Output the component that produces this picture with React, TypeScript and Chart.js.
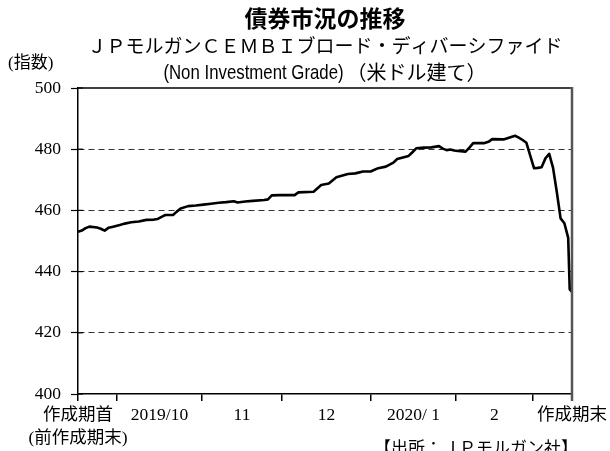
import { useEffect, useRef } from 'react';
import { Chart, registerables } from 'chart.js';

Chart.register(...registerables);

const titleMain = '債券市況の推移';
const titleSub = 'ＪＰモルガンＣＥＭＢＩブロード・ディバーシファイド';
const subtitleLatin = '(Non Investment Grade)';
const subtitleJa = '（米ドル建て）';
const yUnitLabel = '(指数)';
const sourceLabel = '【出所：ＪＰモルガン社】';

// x = business-day index from the start of the period
const dayIndex = [
  0, 1, 2, 3, 5, 6, 7, 8, 9, 10,
  11, 12, 14, 16, 18, 20, 21, 22, 23, 25,
  26, 27, 29, 31, 33, 35, 37, 39, 41, 42,
  44, 46, 49, 50, 51, 53, 57, 58, 62, 64,
  66, 68, 71, 73, 75, 77, 79, 81, 83, 84,
  87, 88, 89, 91, 93, 95, 96, 97, 98, 99,
  100, 102, 103, 104, 107, 108, 109, 112, 113, 115,
  116, 117, 118, 120, 121, 122, 123, 124, 125, 126,
  127, 128, 129, 129.4, 130,
];
const indexValues = [
  453.0, 453.4, 454.2, 454.7, 454.4, 454.0, 453.4, 454.3, 454.6, 454.9,
  455.2, 455.6, 456.1, 456.4, 456.9, 457.0, 457.2, 457.9, 458.5, 458.5,
  459.6, 460.6, 461.4, 461.6, 461.9, 462.2, 462.5, 462.7, 463.0, 462.6,
  462.9, 463.1, 463.4, 463.6, 464.9, 465.0, 465.0, 465.9, 466.1, 468.3,
  468.8, 470.8, 471.9, 472.1, 472.7, 472.7, 473.8, 474.3, 475.6, 476.8,
  477.8, 479.0, 480.3, 480.5, 480.6, 481.0, 480.2, 479.7, 479.9, 479.6,
  479.4, 479.2, 480.5, 482.0, 482.0, 482.4, 483.3, 483.2, 483.6, 484.4,
  483.8, 483.0, 482.1, 473.8, 473.9, 474.1, 477.0, 478.5, 474.0, 466.0,
  457.4, 455.8, 451.0, 434.2, 433.4,
];

const yTicks = [400, 420, 440, 460, 480, 500];
const boundaryTicks = [0, 10.3, 32.6, 53.7, 77.1, 99.5, 119.7, 130];
const boundaryLabels: (string | string[])[] = [
  ['作成期首', '(前作成期末)'], '', '', '', '', '', '', '作成期末',
];
const monthMidTicks = [21.45, 43.15, 65.4, 88.3, 109.6];
const monthLabels = ['2019/10', '11', '12', '2020/ 1', '2'];

const SERIF = "'Liberation Serif', 'Noto Sans CJK JP', serif";
const GOTHIC = "'Noto Sans CJK JP', sans-serif";
const NARROW = "'Liberation Sans', sans-serif";

const framePlugin = {
  id: 'frameAndText',
  afterDraw(chart: any) {
    const { ctx, chartArea } = chart;
    const { left, right, top, bottom } = chartArea;
    const yScale = chart.scales.y;
    ctx.save();
    // top border
    ctx.strokeStyle = '#000';
    ctx.lineWidth = 1.5;
    ctx.beginPath();
    ctx.moveTo(left, top);
    ctx.lineTo(right, top);
    ctx.stroke();
    // right border
    ctx.strokeStyle = '#555';
    ctx.lineWidth = 2.5;
    ctx.beginPath();
    ctx.moveTo(right, top - 1);
    ctx.lineTo(right, bottom + 7);
    ctx.stroke();
    // inner y ticks
    ctx.strokeStyle = '#000';
    ctx.lineWidth = 1.2;
    yTicks.forEach((v) => {
      const y = yScale.getPixelForValue(v);
      ctx.beginPath();
      ctx.moveTo(left, y);
      ctx.lineTo(left + 5, y);
      ctx.stroke();
    });

    // texts
    const cx = (left + right) / 2;
    ctx.fillStyle = '#000';
    ctx.textBaseline = 'middle';
    ctx.textAlign = 'center';
    ctx.font = `bold 23px ${GOTHIC}`;
    ctx.fillText(titleMain, cx, 18);
    ctx.font = `19px ${GOTHIC}`;
    ctx.fillText(titleSub, cx, 46);

    const squeeze = 0.8;
    ctx.font = `21px ${NARROW}`;
    const wA = ctx.measureText(subtitleLatin).width * squeeze;
    ctx.font = `20px ${GOTHIC}`;
    const wB = ctx.measureText(subtitleJa).width;
    const gap = 3;
    const startX = cx - (wA + gap + wB) / 2;
    ctx.textAlign = 'left';
    ctx.save();
    ctx.translate(startX, 73);
    ctx.scale(squeeze, 1);
    ctx.font = `21px ${NARROW}`;
    ctx.fillText(subtitleLatin, 0, 0);
    ctx.restore();
    ctx.font = `20px ${GOTHIC}`;
    ctx.fillText(subtitleJa, startX + wA + gap, 72);

    ctx.font = `17px ${SERIF}`;
    ctx.fillText(yUnitLabel, 8, 64);

    ctx.textAlign = 'right';
    ctx.font = `17px ${SERIF}`;
    ctx.fillText(sourceLabel, 578, 450);
    ctx.restore();
  },
};

export default function App() {
  const canvasRef = useRef<HTMLCanvasElement>(null);

  useEffect(() => {
    if (!canvasRef.current) return;
    const labelFor = (v: number): string | string[] => {
      const bi = boundaryTicks.indexOf(v);
      if (bi >= 0) return boundaryLabels[bi];
      const mi = monthMidTicks.indexOf(v);
      if (mi >= 0) return monthLabels[mi];
      return '';
    };
    const chart = new Chart(canvasRef.current, {
      type: 'line',
      data: {
        datasets: [
          {
            data: dayIndex.map((x, i) => ({ x, y: indexValues[i] })),
            borderColor: '#000',
            borderWidth: 2.6,
            pointRadius: 0,
            tension: 0,
            borderJoinStyle: 'round',
            fill: false,
          },
        ],
      },
      options: {
        animation: false,
        responsive: false,
        maintainAspectRatio: false,
        layout: { padding: { top: 88, right: 38, left: 0, bottom: 0 } },
        plugins: {
          legend: { display: false },
          tooltip: { enabled: false },
          title: { display: false },
        },
        scales: {
          x: {
            type: 'linear',
            min: 0,
            max: 130,
            afterBuildTicks: (scale: any) => {
              const vals = [...boundaryTicks, ...monthMidTicks].sort((a, b) => a - b);
              scale.ticks = vals.map((value) => ({ value }));
            },
            afterFit: (scale: any) => {
              scale.height = 57;
            },
            ticks: {
              autoSkip: false,
              maxRotation: 0,
              minRotation: 0,
              padding: 3,
              color: '#000',
              font: { family: SERIF, size: 17.5, lineHeight: 1.3 },
              callback: (v: any) => labelFor(Number(v)),
            },
            grid: {
              drawOnChartArea: false,
              drawTicks: true,
              tickLength: 7,
              lineWidth: 1.5,
              tickColor: (ctx: any) =>
                ctx.tick && boundaryTicks.includes(ctx.tick.value) ? '#000' : 'rgba(0,0,0,0)',
            },
            border: { display: true, color: '#000', width: 1.5 },
          },
          y: {
            min: 400,
            max: 500,
            afterBuildTicks: (scale: any) => {
              scale.ticks = yTicks.map((value) => ({ value }));
            },
            afterFit: (scale: any) => {
              scale.width = 78;
            },
            ticks: {
              padding: 10,
              color: '#000',
              font: { family: SERIF, size: 17.5 },
            },
            grid: {
              color: (ctx: any) =>
                ctx.tick && (ctx.tick.value === 400 || ctx.tick.value === 500) ? 'rgba(0,0,0,0)' : '#333',
              lineWidth: 1,
              tickLength: 7,
              tickColor: '#000',
              tickWidth: 1.2,
            },
            border: { display: true, color: '#000', width: 1.5, dash: [6, 4] },
          },
        },
      },
      plugins: [framePlugin],
    } as any);
    return () => chart.destroy();
  }, []);

  return (
    <div style={{ position: 'absolute', left: 0, top: 0, width: 610, height: 451, background: '#fff' }}>
      <canvas ref={canvasRef} width={610} height={451} />
    </div>
  );
}
